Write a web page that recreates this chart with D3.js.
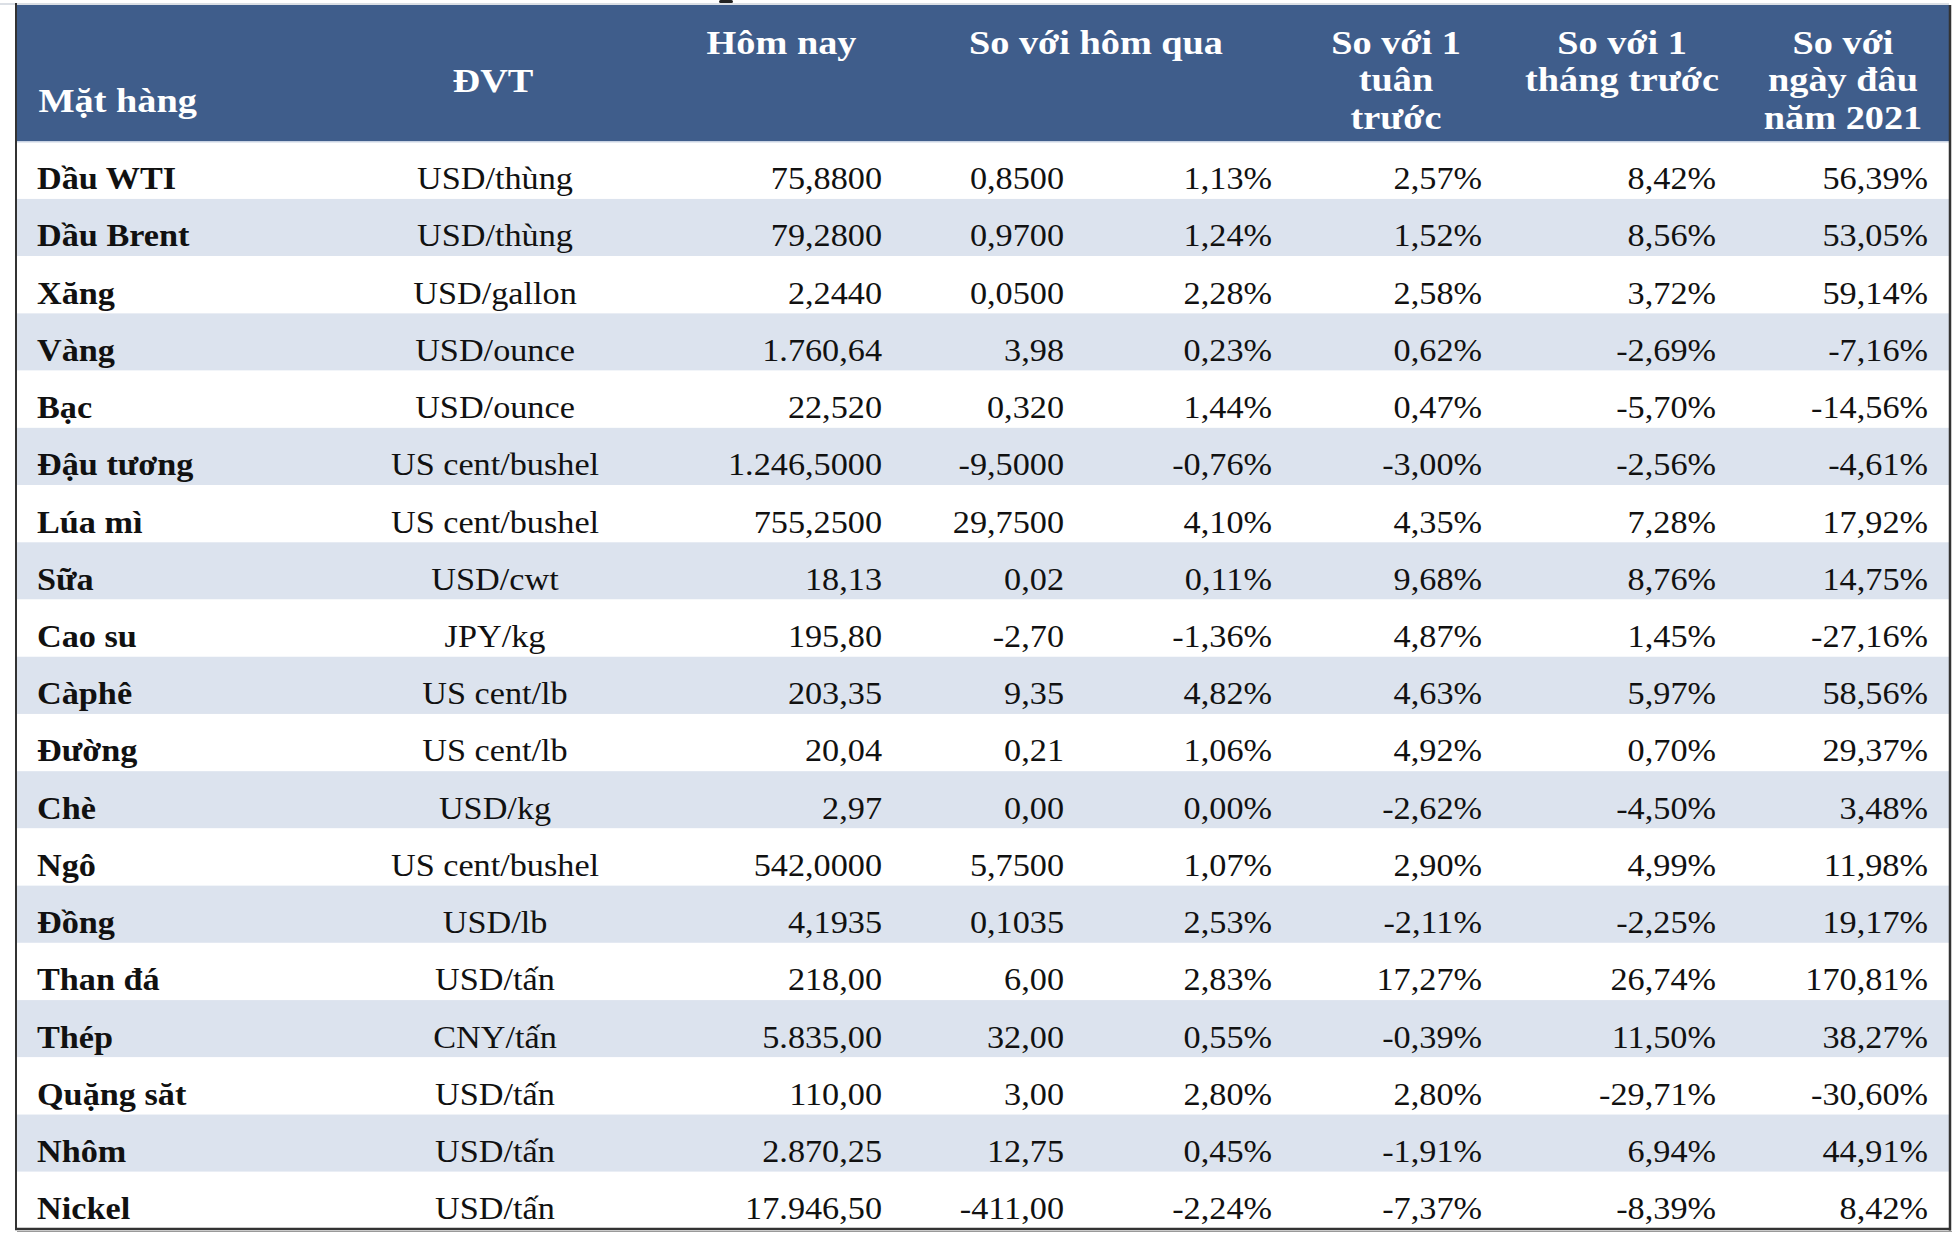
<!DOCTYPE html>
<html>
<head>
<meta charset="utf-8">
<script src="https://cdn.jsdelivr.net/npm/d3@7"></script>
<style>
  html, body { margin: 0; padding: 0; background: #ffffff; }
  svg { display: block; }
</style>
</head>
<body>
<svg id="chart" width="1956" height="1240"></svg>
<script>
// ---- data ----
const items = ["Dầu WTI","Dầu Brent","Xăng","Vàng","Bạc","Đậu tương","Lúa mì","Sữa","Cao su","Càphê","Đường","Chè","Ngô","Đồng","Than đá","Thép","Quặng săt","Nhôm","Nickel"];
const units = ["USD/thùng","USD/thùng","USD/gallon","USD/ounce","USD/ounce","US cent/bushel","US cent/bushel","USD/cwt","JPY/kg","US cent/lb","US cent/lb","USD/kg","US cent/bushel","USD/lb","USD/tấn","CNY/tấn","USD/tấn","USD/tấn","USD/tấn"];
const today = ["75,8800","79,2800","2,2440","1.760,64","22,520","1.246,5000","755,2500","18,13","195,80","203,35","20,04","2,97","542,0000","4,1935","218,00","5.835,00","110,00","2.870,25","17.946,50"];
const chgDay = ["0,8500","0,9700","0,0500","3,98","0,320","-9,5000","29,7500","0,02","-2,70","9,35","0,21","0,00","5,7500","0,1035","6,00","32,00","3,00","12,75","-411,00"];
const pctDay = ["1,13%","1,24%","2,28%","0,23%","1,44%","-0,76%","4,10%","0,11%","-1,36%","4,82%","1,06%","0,00%","1,07%","2,53%","2,83%","0,55%","2,80%","0,45%","-2,24%"];
const pctWeek = ["2,57%","1,52%","2,58%","0,62%","0,47%","-3,00%","4,35%","9,68%","4,87%","4,63%","4,92%","-2,62%","2,90%","-2,11%","17,27%","-0,39%","2,80%","-1,91%","-7,37%"];
const pctMonth = ["8,42%","8,56%","3,72%","-2,69%","-5,70%","-2,56%","7,28%","8,76%","1,45%","5,97%","0,70%","-4,50%","4,99%","-2,25%","26,74%","11,50%","-29,71%","6,94%","-8,39%"];
const pctYear = ["56,39%","53,05%","59,14%","-7,16%","-14,56%","-4,61%","17,92%","14,75%","-27,16%","58,56%","29,37%","3,48%","11,98%","19,17%","170,81%","38,27%","-30,60%","44,91%","8,42%"];
const headers = [
  ["Mặt hàng"],
  ["ĐVT"],
  ["Hôm nay"],
  ["So với hôm qua"],
  ["So với 1","tuân","trước"],
  ["So với 1","tháng trước"],
  ["So với","ngày đâu","năm 2021"]
];

// ---- layout ----
const svg = d3.select("#chart");
const FONT = "'Liberation Serif','Times New Roman',serif";
const tableLeft = 17, tableRight = 1949;
const headTop = 5, headBottom = 141.7, tableBottom = 1229;

const y = d3.scaleBand().domain(d3.range(items.length)).range([headBottom, tableBottom]).padding(0);

// column specs: data array, anchor, x position, bold
const cols = [
  {data: items,    anchor: "start",  x: 37,   bold: true},
  {data: units,    anchor: "middle", x: 495,  bold: false},
  {data: today,    anchor: "end",    x: 882,  bold: false},
  {data: chgDay,   anchor: "end",    x: 1064, bold: false},
  {data: pctDay,   anchor: "end",    x: 1272, bold: false},
  {data: pctWeek,  anchor: "end",    x: 1482, bold: false},
  {data: pctMonth, anchor: "end",    x: 1716, bold: false},
  {data: pctYear,  anchor: "end",    x: 1928, bold: false}
];
const headSpec = [
  {anchor: "start",  x: 38.5, baseline: 112},
  {anchor: "middle", x: 493,  baseline: 91.5},
  {anchor: "middle", x: 781.5, baseline: 53.5},
  {anchor: "middle", x: 1096, baseline: 53.5},
  {anchor: "middle", x: 1396, baseline: 53.5},
  {anchor: "middle", x: 1622, baseline: 53.5},
  {anchor: "middle", x: 1843, baseline: 53.5}
];
const lineGap = 37.5;

// top hairline
svg.append("line").attr("x1", 0).attr("x2", tableRight).attr("y1", 4).attr("y2", 4)
  .attr("stroke", "#b8bfcc").attr("stroke-width", 1.2);
// small clipped mark at top
svg.append("rect").attr("x", 719).attr("y", 0).attr("width", 14).attr("height", 3)
  .attr("fill", "#222").attr("rx", 1.5);

// header background
svg.append("rect").attr("x", tableLeft).attr("y", headTop)
  .attr("width", tableRight - tableLeft).attr("height", headBottom - headTop)
  .attr("fill", "#3f5d8b");

// row stripes
svg.append("g").selectAll("rect").data(d3.range(items.length)).join("rect")
  .attr("x", tableLeft).attr("y", i => y(i))
  .attr("width", tableRight - tableLeft).attr("height", y.bandwidth())
  .attr("fill", i => i % 2 === 1 ? "#dce3ee" : "#ffffff");

// header/row separator
svg.append("line").attr("x1", tableLeft).attr("x2", tableRight).attr("y1", headBottom).attr("y2", headBottom)
  .attr("stroke", "#c9d3e3").attr("stroke-width", 1.5);

// header text
const hg = svg.append("g").attr("font-family", FONT).attr("font-weight", "bold")
  .attr("font-size", 33).attr("fill", "#ffffff");
headers.forEach((lines, c) => {
  const s = headSpec[c];
  lines.forEach((t, k) => {
    hg.append("text")
      .attr("transform", `translate(${s.x},${s.baseline + k * lineGap}) scale(1.16,1)`)
      .attr("text-anchor", s.anchor)
      .text(t);
  });
});

// body text
const bg = svg.append("g").attr("font-family", FONT).attr("font-size", 32).attr("fill", "#111111");
cols.forEach(col => {
  bg.append("g").selectAll("text").data(col.data).join("text")
    .attr("transform", (d, i) => `translate(${col.x},${y(i) + 47.5}) scale(1.07,1)`)
    .attr("text-anchor", col.anchor)
    .attr("font-weight", col.bold ? "bold" : "normal")
    .text(d => d);
});

// borders
svg.append("line").attr("x1", 16).attr("x2", 16).attr("y1", 3).attr("y2", tableBottom + 1)
  .attr("stroke", "#333333").attr("stroke-width", 2);
svg.append("line").attr("x1", 1950).attr("x2", 1950).attr("y1", 5).attr("y2", tableBottom + 1.5)
  .attr("stroke", "#333333").attr("stroke-width", 2.5);
svg.append("line").attr("x1", 15).attr("x2", 1951).attr("y1", tableBottom).attr("y2", tableBottom)
  .attr("stroke", "#333333").attr("stroke-width", 2.5);
svg.append("line").attr("x1", 17).attr("x2", 1952).attr("y1", tableBottom + 2.5).attr("y2", tableBottom + 2.5)
  .attr("stroke", "#9a9a9a").attr("stroke-width", 1);
</script>
</body>
</html>
